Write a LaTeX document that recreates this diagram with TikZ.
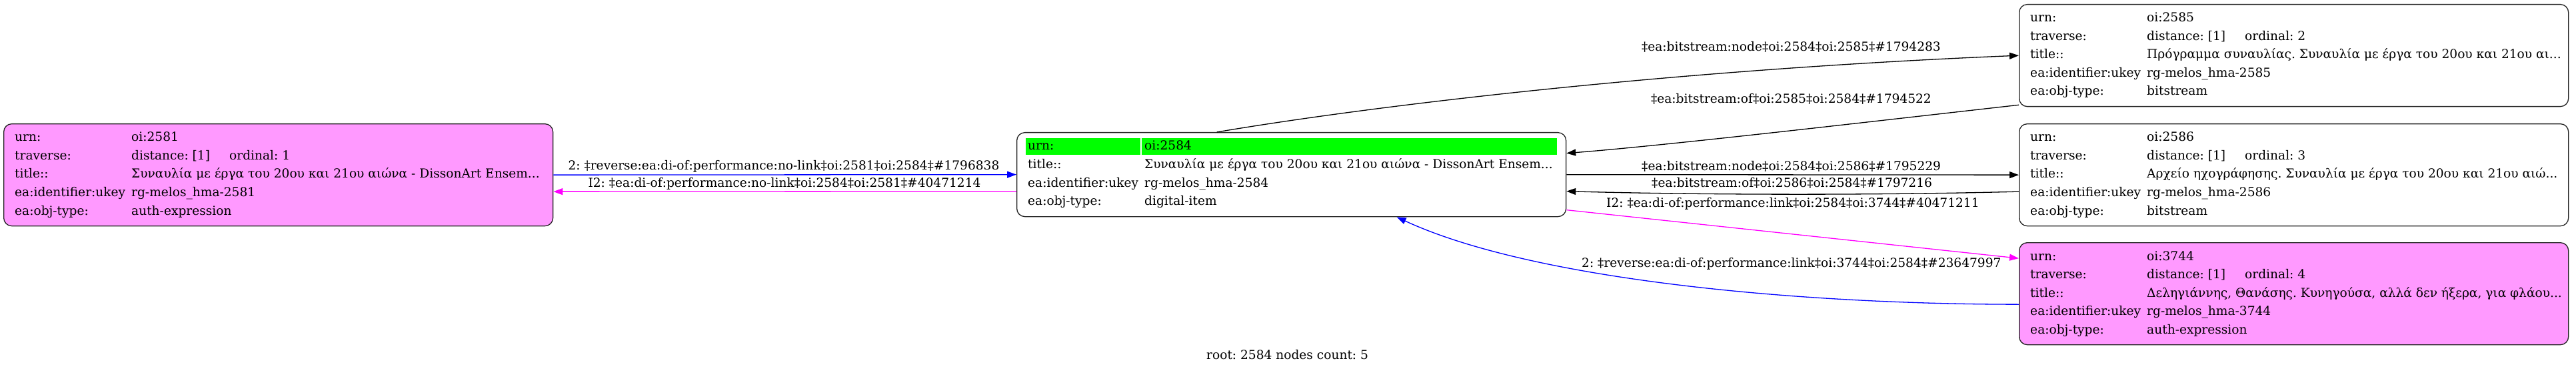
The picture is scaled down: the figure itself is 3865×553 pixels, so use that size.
\documentclass[tikz,border=0pt]{standalone}
\usepackage{fontspec}
\setmainfont{DejaVu Serif}
\usetikzlibrary{arrows.meta}
\definecolor{pinkc}{HTML}{FF99FF}
\definecolor{greenc}{HTML}{00FF00}
\definecolor{magc}{HTML}{FF00FF}
\definecolor{bluec}{HTML}{0000FF}
\definecolor{bordc}{HTML}{222222}
\newcommand\fs{\fontsize{18.6pt}{22pt}\selectfont\frenchspacing}
\newcommand\kvrow[5]{%
  \node[txt] (#1k#2) at ([xshift=17pt,yshift=-#3pt]#1.north west) {#4};
  \node[txt] (#1v#2) at ([xshift=192pt,yshift=-#3pt]#1.north west) {#5};}
\newcommand\ordrow[3]{%
  \node[txt] (#1o) at ([xshift=339pt,yshift=-#2pt]#1.north west) {ordinal: #3};}
\begin{document}
\begin{tikzpicture}[x=1pt,y=1pt,
  box/.style={draw=bordc, line width=1.3pt, rounded corners=12pt, minimum width=824pt,
    minimum height=153pt, anchor=north west, inner sep=0pt},
  txt/.style={anchor=base west, inner sep=0pt, font=\fs},
  lab/.style={inner sep=0pt, font=\fs},
  edgebase/.style={line width=1.3pt, -{Triangle[length=14pt,width=10pt]}},
  bl/.style={edgebase, draw=bluec},
  mg/.style={edgebase, draw=magc},
  bk/.style={edgebase, draw=black}]
\fill[white] (0,0) rectangle (3865,-553);
\useasboundingbox (0,0) rectangle (3865,-553);

% nodes
\node[box, fill=pinkc] (L) at (5,-185) {};
\node[box, fill=white, minimum height=126pt] (C) at (1525,-198) {};
\node[box, fill=white] (R1) at (3029,-6) {};
\node[box, fill=white] (R2) at (3029,-185) {};
\node[box, fill=pinkc] (R3) at (3029,-363) {};

% green header of the root node
\fill[greenc] ([xshift=14pt,yshift=-9pt]C.north west) rectangle ([xshift=186pt,yshift=-34pt]C.north west);
\fill[greenc] ([xshift=188pt,yshift=-9pt]C.north west) rectangle ([xshift=811pt,yshift=-34pt]C.north west);

% texts: 2581
\kvrow{L}{1}{27}{urn:}{oi:2581}
\kvrow{L}{2}{54.5}{traverse:}{distance: [1]}
\ordrow{L}{54.5}{1}
\kvrow{L}{3}{82}{title::}{Συναυλία με έργα του 20ου και 21ου αιώνα - DissonArt Ensem...}
\kvrow{L}{4}{109.5}{ea:identifier:ukey}{rg-melos\_hma-2581}
\kvrow{L}{5}{137}{ea:obj-type:}{auth-expression}

% texts: 2584
\kvrow{C}{1}{27}{urn:}{oi:2584}
\kvrow{C}{2}{54.5}{title::}{Συναυλία με έργα του 20ου και 21ου αιώνα - DissonArt Ensem...}
\kvrow{C}{3}{82}{ea:identifier:ukey}{rg-melos\_hma-2584}
\kvrow{C}{4}{109.5}{ea:obj-type:}{digital-item}

% texts: 2585
\kvrow{R1}{1}{27}{urn:}{oi:2585}
\kvrow{R1}{2}{54.5}{traverse:}{distance: [1]}
\ordrow{R1}{54.5}{2}
\kvrow{R1}{3}{82}{title::}{Πρόγραμμα συναυλίας. Συναυλία με έργα του 20ου και 21ου αι...}
\kvrow{R1}{4}{109.5}{ea:identifier:ukey}{rg-melos\_hma-2585}
\kvrow{R1}{5}{137}{ea:obj-type:}{bitstream}

% texts: 2586
\kvrow{R2}{1}{27}{urn:}{oi:2586}
\kvrow{R2}{2}{54.5}{traverse:}{distance: [1]}
\ordrow{R2}{54.5}{3}
\kvrow{R2}{3}{82}{title::}{Αρχείο ηχογράφησης. Συναυλία με έργα του 20ου και 21ου αιώ...}
\kvrow{R2}{4}{109.5}{ea:identifier:ukey}{rg-melos\_hma-2586}
\kvrow{R2}{5}{137}{ea:obj-type:}{bitstream}

% texts: 3744
\kvrow{R3}{1}{27}{urn:}{oi:3744}
\kvrow{R3}{2}{54.5}{traverse:}{distance: [1]}
\ordrow{R3}{54.5}{4}
\kvrow{R3}{3}{82}{title::}{Δεληγιάννης, Θανάσης. Κυνηγούσα, αλλά δεν ήξερα, για φλάου...}
\kvrow{R3}{4}{109.5}{ea:identifier:ukey}{rg-melos\_hma-3744}
\kvrow{R3}{5}{137}{ea:obj-type:}{auth-expression}

% connectors
\draw[bl] (L.east) -- (C.west);
\draw[mg] ([yshift=-25pt]C.west) -- ([yshift=-25pt]L.east);
\draw[bk] ([xshift=-112pt]C.north) .. controls (2050,-160) and (2500,-105) .. (R1.west);
\draw[bk] ([yshift=3pt]R1.south west) .. controls (2800,-183) and (2500,-218) .. ([yshift=32pt]C.east);
\draw[bk] (C.east) -- (R2.west);
\draw[bk] ([yshift=-25pt]R2.west) .. controls (2800,-293) and (2550,-292) .. ([yshift=-25pt]C.east);
\draw[mg] ([yshift=-53pt]C.east) -- ([yshift=53pt]R3.west);
\draw[bl] ([yshift=-16pt]R3.west) .. controls (2700,-456) and (2300,-420) .. ([xshift=158pt]C.south);

% connector labels
\node[lab, anchor=base] (l1) at (1176,-255) {2: ‡reverse:ea:di-of:performance:no-link‡oi:2581‡oi:2584‡\#1796838};
\node[lab, anchor=base] (l2) at (1177,-281) {I2: ‡ea:di-of:performance:no-link‡oi:2584‡oi:2581‡\#40471214};
\node[lab, anchor=base east] (l3) at (2912,-77) {‡ea:bitstream:node‡oi:2584‡oi:2585‡\#1794283};
\node[lab, anchor=base east] (l4) at (2898,-155) {‡ea:bitstream:of‡oi:2585‡oi:2584‡\#1794522};
\node[lab, anchor=base west] (l5) at (2463,-256) {‡ea:bitstream:node‡oi:2584‡oi:2586‡\#1795229};
\node[lab, anchor=base west] (l6) at (2478,-281) {‡ea:bitstream:of‡oi:2586‡oi:2584‡\#1797216};
\node[lab, anchor=base west] (l7) at (2410,-311) {I2: ‡ea:di-of:performance:link‡oi:2584‡oi:3744‡\#40471211};
\node[lab, anchor=base west] (l8) at (2373,-400) {2: ‡reverse:ea:di-of:performance:link‡oi:3744‡oi:2584‡\#23647997};

\node[lab, anchor=base west] (root) at (1810,-538) {root: 2584 nodes count: 5};
\end{tikzpicture}
\end{document}
